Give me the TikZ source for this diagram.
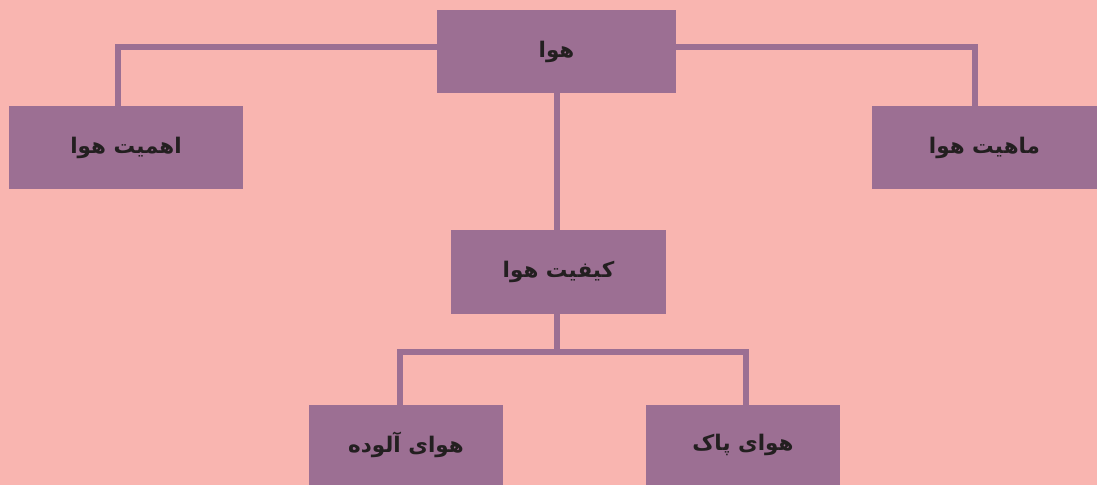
\documentclass[tikz,border=0pt]{standalone}
\usepackage{fontspec}
\newfontfamily\arabicfont[Script=Arabic]{DejaVu Sans}
\TeXXeTstate=1
\definecolor{bgpink}{HTML}{F9B5B0}
\definecolor{boxpurple}{HTML}{9C6F93}
\definecolor{txtdark}{HTML}{231F20}
\begin{document}
\begin{tikzpicture}[x=1pt,y=-1pt,
  box/.style={fill=boxpurple,draw=none,inner sep=0pt,text=txtdark,
    font=\arabicfont\bfseries\fontsize{21.5}{24}\selectfont},
  conn/.style={draw=boxpurple,line width=6pt,line join=miter,line cap=butt}]
\fill[bgpink] (0,0) rectangle (1097,485);
\useasboundingbox (0,0) rectangle (1097,485);
\node[box,minimum width=239pt,minimum height=83pt] (top) at (556.5,51.5) {\beginR هوا\endR};
\node[box,minimum width=234pt,minimum height=83pt] (left) at (126,147.5) {\beginR اهمیت هوا\endR};
\node[box,minimum width=225pt,minimum height=83pt] (right) at (984.5,147.5) {\beginR ماهیت هوا\endR};
\node[box,minimum width=215pt,minimum height=84pt] (mid) at (558.5,272) {\beginR کیفیت هوا\endR};
\node[box,minimum width=194pt,minimum height=80pt] (bl) at (406,445) {\beginR هوای آلوده\endR};
\node[box,minimum width=194pt,minimum height=80pt] (br) at (743,445) {\beginR هوای پاک\endR};
\coordinate (j) at (556.5,352);
\draw[conn] ([yshift=4.5pt]top.west) -| ([xshift=-8pt]left.north);
\draw[conn] ([yshift=4.5pt]top.east) -| ([xshift=-9.5pt]right.north);
\draw[conn] (top.south) -- (top.south |- mid.north);
\draw[conn] (top.south |- mid.south) -- (j);
\draw[conn] ([xshift=-6.5pt]bl.north) |- (j) -| ([xshift=3pt]br.north);
\end{tikzpicture}
\end{document}
